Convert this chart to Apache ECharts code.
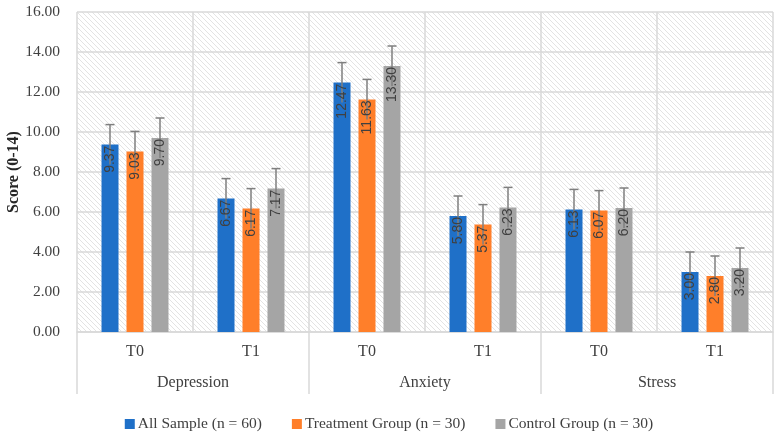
<!DOCTYPE html>
<html>
<head>
<meta charset="utf-8">
<script src="https://cdn.jsdelivr.net/npm/echarts@6/dist/echarts.min.js"></script>
<style>
  html, body { margin: 0; padding: 0; background: #fff; }
  #chart { width: 778px; height: 436px; }
</style>
</head>
<body>
<div id="chart"></div>
<script>
// data
var timePoints = ['T0', 'T1', 'T0', 'T1', 'T0', 'T1'];
var scales = ['Depression', 'Anxiety', 'Stress'];
var seriesNames = ['All Sample (n = 60)', 'Treatment Group (n = 30)', 'Control Group (n = 30)'];
var allSample = [9.37, 6.67, 12.47, 5.80, 6.13, 3.00];
var treatment = [9.03, 6.17, 11.63, 5.37, 6.07, 2.80];
var control = [9.70, 7.17, 13.30, 6.23, 6.20, 3.20];
var errAll = [1, 1, 1, 1, 1, 1];
var errTreatment = [1, 1, 1, 1, 1, 1];
var errControl = [1, 1, 1, 1, 1, 1];

var colors = ['#1f70c8', '#ff7f2a', '#a5a5a5'];
var serif = '"Liberation Serif", serif';
var gridColor = '#d9d9d9';

// hatched plot background
var hatch = document.createElement('canvas');
hatch.width = 5;
hatch.height = 5;
(function () {
  var c = hatch.getContext('2d');
  c.fillStyle = '#ffffff';
  c.fillRect(0, 0, 5, 5);
  c.strokeStyle = '#e3e3e3';
  c.lineWidth = 1;
  c.beginPath();
  c.moveTo(-1, -1); c.lineTo(6, 6);
  c.moveTo(-4, 1); c.lineTo(2, 7);
  c.moveTo(1, -4); c.lineTo(7, 2);
  c.stroke();
})();

var chart = echarts.init(document.getElementById('chart'));

function errorSeries(idx, values, errs) {
  var data = values.map(function (v, i) { return [i, v, errs[i]]; });
  return {
    type: 'custom',
    name: seriesNames[idx],
    xAxisIndex: 0,
    z: 5,
    silent: true,
    data: data,
    renderItem: function (params, api) {
      var ci = api.value(0), v = api.value(1), e = api.value(2);
      var top = api.coord([ci, v + e]);
      var low = api.coord([ci, v - e]);
      var mid = api.coord([ci, v]);
      var x = top[0] + (idx - 1) * 25;
      return {
        type: 'group',
        children: [
          { type: 'line', shape: { x1: x, y1: top[1], x2: x, y2: low[1] },
            style: { stroke: '#7f7f7f', lineWidth: 1.5 } },
          { type: 'line', shape: { x1: x - 4.5, y1: top[1], x2: x + 4.5, y2: top[1] },
            style: { stroke: '#7f7f7f', lineWidth: 1.5 } },
          { type: 'text', x: x, y: mid[1] + 1, rotation: Math.PI / 2,
            style: { text: v.toFixed(2), fill: '#404040', font: '14px "Liberation Sans", Arial, sans-serif',
                     align: 'right', verticalAlign: 'middle' } }
        ]
      };
    }
  };
}

function barSeries(idx, values) {
  return {
    type: 'bar',
    name: seriesNames[idx],
    xAxisIndex: 0,
    data: values,
    barWidth: 17,
    barGap: '47%',
    itemStyle: { color: colors[idx] },
    z: 2
  };
}

chart.setOption({
  animation: false,
  color: colors,
  grid: {
    left: 77, right: 5, top: 12, bottom: 104,
    outerBoundsMode: 'none',
    containLabel: false,
    show: true,
    borderWidth: 0,
    backgroundColor: { image: hatch, repeat: 'repeat' }
  },
  legend: {
    data: seriesNames,
    top: 411,
    left: 'center',
    icon: 'rect',
    itemWidth: 10,
    itemHeight: 10,
    itemGap: 30,
    textStyle: { fontFamily: serif, fontSize: 15.5, color: '#404040', padding: [0, 0, 0, -2] }
  },
  xAxis: [{
    type: 'category',
    data: timePoints,
    position: 'bottom',
    axisLine: { show: true, lineStyle: { color: gridColor, width: 1.5 } },
    axisTick: { show: false },
    axisLabel: { fontFamily: serif, fontSize: 16, color: '#404040', margin: 12, interval: 0 },
    splitLine: { show: true, interval: 0, lineStyle: { color: gridColor, width: 1.5 } }
  }, {
    type: 'category',
    data: scales,
    position: 'bottom',
    axisLine: { show: false },
    axisTick: { show: true, length: 62, interval: 0, lineStyle: { color: gridColor, width: 1.5 } },
    axisLabel: { fontFamily: serif, fontSize: 16, color: '#404040', margin: 43, interval: 0 },
    splitLine: { show: false }
  }],
  yAxis: {
    type: 'value',
    min: 0,
    max: 16,
    interval: 2,
    name: 'Score (0-14)',
    nameLocation: 'middle',
    nameGap: 55,
    nameMoveOverlap: false,
    nameTextStyle: { fontFamily: serif, fontSize: 16, fontWeight: 'bold', color: '#262626' },
    axisLine: { show: false },
    axisTick: { show: false },
    axisLabel: {
      fontFamily: serif, fontSize: 15.5, color: '#404040', margin: 17,
      formatter: function (v) { return v.toFixed(2); }
    },
    splitLine: { show: true, lineStyle: { color: gridColor, width: 1.5 } }
  },
  series: [
    barSeries(0, allSample),
    barSeries(1, treatment),
    barSeries(2, control),
    errorSeries(0, allSample, errAll),
    errorSeries(1, treatment, errTreatment),
    errorSeries(2, control, errControl)
  ]
});
</script>
</body>
</html>
